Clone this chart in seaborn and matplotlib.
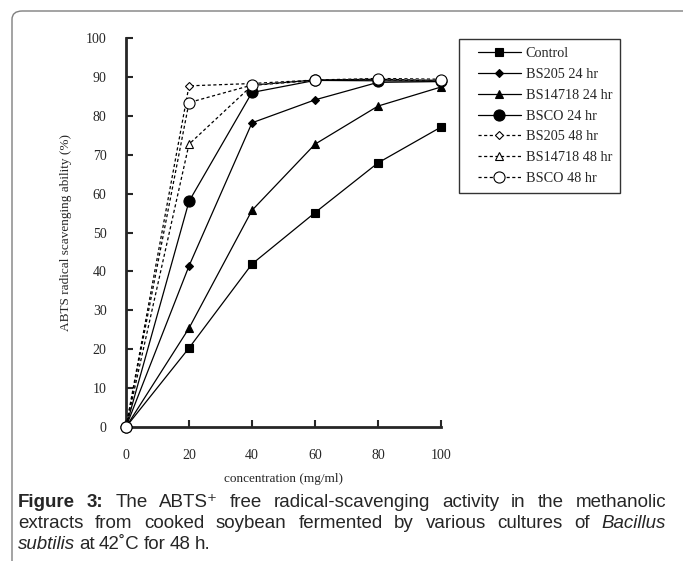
import matplotlib
matplotlib.use("Agg")
import matplotlib.pyplot as plt
import seaborn as sns
from matplotlib.patches import FancyBboxPatch
from matplotlib.legend_handler import HandlerLine2D
from matplotlib.lines import Line2D

# === DATA ===
conc = [0, 20, 40, 60, 80, 100]
control = [0, 20.3, 41.9, 55.1, 67.9, 77.1]
bs205_24 = [0, 41.4, 78.2, 84.1, 88.6, 88.8]
bs14718_24 = [0, 25.4, 55.7, 72.7, 82.5, 87.4]
bsco_24 = [0, 58.0, 86.0, 89.1, 89.0, 88.9]
bs205_48 = [0, 87.7, 88.3, 89.2, 89.6, 89.4]
bs14718_48 = [0, 72.7, 87.8, 89.1, 89.3, 88.9]
bsco_48 = [0, 83.4, 87.9, 89.2, 89.4, 89.1]

labels = ["Control", "BS205 24 hr", "BS14718 24 hr", "BSCO 24 hr",
          "BS205 48 hr", "BS14718 48 hr", "BSCO 48 hr"]
series = [control, bs205_24, bs14718_24, bsco_24, bs205_48, bs14718_48, bsco_48]

# marker, size, filled, dashed
styles = [("s", 6, True, False), ("D", 4.5, True, False), ("^", 6, True, False),
          ("o", 8, True, False), ("D", 4.5, False, True), ("^", 6, False, True),
          ("o", 8, False, True)]

# === STYLE ===
sns.set_style("ticks")
plt.rcParams["font.family"] = ["Liberation Serif", "DejaVu Serif"]

W, H = 683, 561
fig = plt.figure(figsize=(W / 100, H / 100), dpi=100)
ax = fig.add_axes([126 / W, 1 - 427 / H, (441 - 126) / W, (427 - 38) / H])

for ys, lab, (mk, ms, filled, dashed) in zip(series, labels, styles):
    sns.lineplot(x=conc, y=ys, ax=ax, color="black", marker=mk, markersize=ms,
                 markerfacecolor="black" if filled else "white",
                 markeredgecolor="black", markeredgewidth=0.8,
                 linewidth=0.9, linestyle=(0, (2.5, 2)) if dashed else "-",
                 label=lab, clip_on=False, zorder=3)

ax.set_xlim(0, 100)
ax.set_ylim(0, 100)
ax.set_xticks(range(0, 101, 20))
ax.set_yticks(range(0, 101, 10))
ax.tick_params(direction="in", length=5, width=1.5, labelsize=10)
ax.tick_params(axis="x", pad=16)
ax.tick_params(axis="y", pad=14)
for s in ["top", "right"]:
    ax.spines[s].set_visible(False)
for s in ["left", "bottom"]:
    ax.spines[s].set_linewidth(2)
ax.set_xlabel("concentration (mg/ml)", fontsize=9.5, labelpad=8)
ax.set_ylabel("ABTS radical scavenging ability (%)", fontsize=9.5, labelpad=10)

leg = ax.legend(loc="upper left", bbox_to_anchor=(459 / W, 1 - 39 / H),
                bbox_transform=fig.transFigure, frameon=True, fancybox=False,
                framealpha=1, edgecolor="#333333", fontsize=10.3,
                handlelength=3.75, handletextpad=0.35, labelspacing=0.55,
                borderpad=0.55, borderaxespad=0,
                handler_map={Line2D: HandlerLine2D(xpad=0.8)})
leg.get_frame().set_linewidth(1.0)

# === FRAME AROUND FIGURE ===
frame = FancyBboxPatch((12 / W, -0.02), 1.2, 1 - 11 / H + 0.02,
                       boxstyle="round,pad=0,rounding_size=0.015",
                       transform=fig.transFigure, facecolor="none",
                       edgecolor="#7f7f7f", linewidth=1.0)
fig.add_artist(frame)

# === CAPTION (justified) ===
sans = ["Liberation Sans", "DejaVu Sans"]
fs = 13.5
lines = [
    ([("Figure", "bold", "normal"), ("3:", "bold", "normal"), ("The", "normal", "normal"),
      ("ABTS\u207a", "normal", "normal"), ("free", "normal", "normal"),
      ("radical-scavenging", "normal", "normal"), ("activity", "normal", "normal"),
      ("in", "normal", "normal"), ("the", "normal", "normal"),
      ("methanolic", "normal", "normal")], True),
    ([("extracts", "normal", "normal"), ("from", "normal", "normal"),
      ("cooked", "normal", "normal"), ("soybean", "normal", "normal"),
      ("fermented", "normal", "normal"), ("by", "normal", "normal"),
      ("various", "normal", "normal"), ("cultures", "normal", "normal"),
      ("of", "normal", "normal"), ("Bacillus", "normal", "italic")], True),
    ([("subtilis", "normal", "italic"), ("at", "normal", "normal"),
      ("42\u02daC", "normal", "normal"), ("for", "normal", "normal"),
      ("48", "normal", "normal"), ("h.", "normal", "normal")], False),
]
x0, x1 = 18, 666
line_y = [507, 528, 549]
renderer = fig.canvas.get_renderer()
for (words, justify), yp in zip(lines, line_y):
    texts = [fig.text(0, 1 - yp / H, w, fontsize=fs, fontweight=wt, fontstyle=st,
                      family=sans, va="baseline", ha="left")
             for w, wt, st in words]
    widths = [t.get_window_extent(renderer).width for t in texts]
    if justify:
        gap = (x1 - x0 - sum(widths)) / (len(texts) - 1)
    else:
        gap = fs * 0.3
    xp = x0
    for t, w in zip(texts, widths):
        t.set_x(xp / W)
        xp += w + gap

fig.savefig("out.png", dpi=100)
